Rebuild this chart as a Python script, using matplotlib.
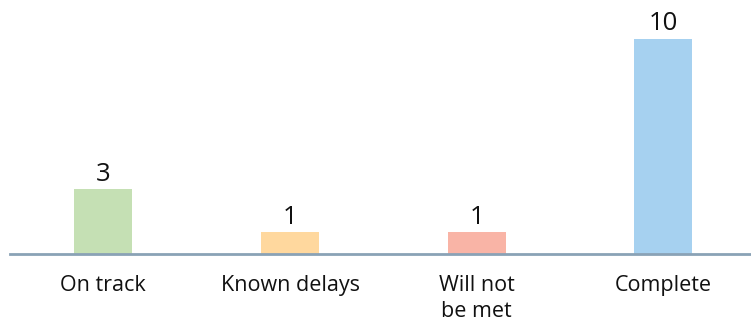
import matplotlib
matplotlib.use("Agg")
import matplotlib.pyplot as plt

categories = ["On track", "Known delays", "Will not\nbe met", "Complete"]
values = [3, 1, 1, 10]
colors = ["#c5e0b4", "#ffd89e", "#f9b4a6", "#a6d1f0"]

plt.rcParams['font.family'] = ['Open Sans', 'DejaVu Sans']

W, H = 751, 326
fig = plt.figure(figsize=(W/100, H/100), dpi=100)
base = (H - 253.5) / H
ax = fig.add_axes([10/W, base, 741/W, (253.5 - 6) / H])
x = list(range(len(categories)))
ax.bar(x, values, width=0.31, color=colors, zorder=2)
ax.set_xlim(-0.5, -0.5 + 741/186.67)
ax.set_ylim(0, 247.5/21.5)
for xi, v in zip(x, values):
    ax.annotate(str(v), (xi, v), xytext=(0, 1.5), textcoords="offset points",
                ha="center", va="bottom", fontsize=18.5, color="#111111")
for s in ["top", "right", "left"]:
    ax.spines[s].set_visible(False)
ax.spines["bottom"].set_color("#8aa2b6")
ax.spines["bottom"].set_linewidth(2)
ax.set_yticks([])
ax.set_xticks(x)
ax.set_xticklabels(categories, fontsize=15.5, color="#111111", linespacing=1.3)
ax.tick_params(axis="x", length=0, pad=15.5)
fig.savefig("out.png", dpi=100)
